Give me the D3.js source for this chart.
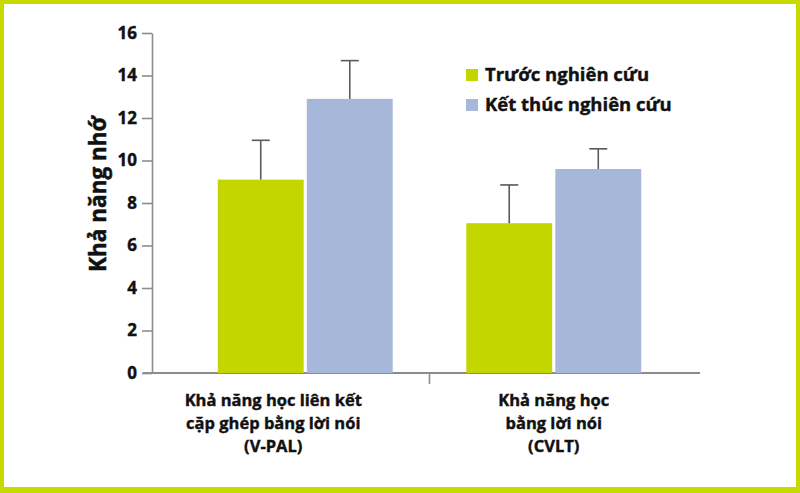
<!DOCTYPE html>
<html>
<head>
<meta charset="utf-8">
<script src="https://cdn.jsdelivr.net/npm/d3@7"></script>
<style>
  html, body { margin: 0; padding: 0; background: #fff; }
  svg { display: block; }
  text { font-family: "Open Sans", Lato, sans-serif; font-weight: 700; fill: #111; }
</style>
</head>
<body>
<svg id="chart" width="800" height="493"></svg>
<script>
// chart data
const categories = ["V-PAL", "CVLT"];
const categoryLabels = [
  ["Khả năng học liên kết", "cặp ghép bằng lời nói", "(V-PAL)"],
  ["Khả năng học", "bằng lời nói", "(CVLT)"]
];
const seriesNames = ["Trước nghiên cứu", "Kết thúc nghiên cứu"];
const seriesColors = ["#c3d600", "#a6b7da"];
const beforeValues = [9.1, 7.05];
const beforeErrors = [1.85, 1.8];
const afterValues = [12.9, 9.6];
const afterErrors = [1.8, 0.95];
const yTicks = [0, 2, 4, 6, 8, 10, 12, 14, 16];
const yTitle = "Khả năng nhớ";

const svg = d3.select("#chart");
const W = 800, H = 493;

// frame
svg.append("rect").attr("width", W).attr("height", H).attr("fill", "#c6da00");
svg.append("rect").attr("x", 4).attr("y", 4).attr("width", W - 8).attr("height", H - 10)
  .attr("fill", "#fff");

const rows = categories.map((c, i) => ({
  cat: c,
  values: [
    { s: seriesNames[0], v: beforeValues[i], e: beforeErrors[i], color: seriesColors[0] },
    { s: seriesNames[1], v: afterValues[i], e: afterErrors[i], color: seriesColors[1] }
  ]
}));

const y = d3.scaleLinear().domain([0, 16]).range([373, 33]);
const x0 = d3.scaleBand().domain(categories).range([181, 678])
  .paddingInner(0.296).paddingOuter(0.148);
const x1 = d3.scaleBand().domain(seriesNames).range([0, x0.bandwidth()]).paddingInner(0.035);

const axisColor = "#8c8c8c";

// y axis
const yAxis = svg.append("g")
  .attr("transform", "translate(152,0)")
  .call(d3.axisLeft(y).tickValues(yTicks).tickSize(10).tickSizeOuter(0).tickPadding(5));
yAxis.select(".domain").attr("stroke", axisColor).attr("stroke-width", 1.6);
yAxis.selectAll(".tick line").attr("stroke", axisColor).attr("stroke-width", 1.6);
yAxis.selectAll(".tick text").attr("font-size", 17).attr("font-family", "'Open Sans', sans-serif")
  .attr("font-weight", 700).attr("fill", "#111")
  .attr("stroke", "#111").attr("stroke-width", 0.4);

// x axis line and the divider tick
svg.append("line").attr("x1", 143).attr("x2", 700).attr("y1", y(0)).attr("y2", y(0))
  .attr("stroke", axisColor).attr("stroke-width", 1.8);
const step = x0.step();
const midX = x0(categories[0]) + x0.bandwidth() + (step - x0.bandwidth()) / 2;
svg.append("line").attr("x1", midX).attr("x2", midX).attr("y1", y(0)).attr("y2", y(0) + 11)
  .attr("stroke", axisColor).attr("stroke-width", 1.6);

// bars
const groups = svg.append("g").selectAll("g").data(rows).join("g")
  .attr("transform", (d) => `translate(${x0(d.cat)},0)`);

groups.selectAll("rect").data((d) => d.values).join("rect")
  .attr("x", (d) => x1(d.s))
  .attr("y", (d) => y(d.v))
  .attr("width", x1.bandwidth())
  .attr("height", (d) => y(0) - y(d.v))
  .attr("fill", (d) => d.color);

// error bars (upper only)
const cap = 9;
groups.selectAll("g.err").data((d) => d.values).join("g")
  .attr("class", "err")
  .each(function (d) {
    const cx = x1(d.s) + x1.bandwidth() / 2;
    const g = d3.select(this);
    g.append("line").attr("x1", cx).attr("x2", cx).attr("y1", y(d.v)).attr("y2", y(d.v + d.e))
      .attr("stroke", "#5a5a5a").attr("stroke-width", 1.6);
    g.append("line").attr("x1", cx - cap).attr("x2", cx + cap)
      .attr("y1", y(d.v + d.e)).attr("y2", y(d.v + d.e))
      .attr("stroke", "#5a5a5a").attr("stroke-width", 1.6);
  });

// category labels
categoryLabels.forEach((lines, i) => {
  const cx = x0(categories[i]) + x0.bandwidth() / 2 + (i === 0 ? -32 : 0);
  const t = svg.append("text").attr("text-anchor", "middle").attr("font-size", 16.5)
    .attr("stroke", "#111").attr("stroke-width", 0.4);
  lines.forEach((ln, j) => {
    t.append("tspan").attr("x", cx).attr("y", 406 + j * 23).text(ln);
  });
});

// y title
svg.append("text")
  .attr("transform", "translate(106,194) rotate(-90)")
  .attr("text-anchor", "middle")
  .attr("font-size", 22.5)
  .attr("stroke", "#111").attr("stroke-width", 0.5)
  .text(yTitle);

// legend
const legend = svg.append("g").attr("transform", "translate(466,69)");
seriesNames.forEach((name, i) => {
  const row = legend.append("g").attr("transform", `translate(0,${i * 30})`);
  row.append("rect").attr("width", 12).attr("height", 12).attr("fill", seriesColors[i]);
  row.append("text").attr("x", 19).attr("y", 12).attr("font-size", 18.5)
    .attr("stroke", "#111").attr("stroke-width", 0.4).text(name);
});
</script>
</body>
</html>
